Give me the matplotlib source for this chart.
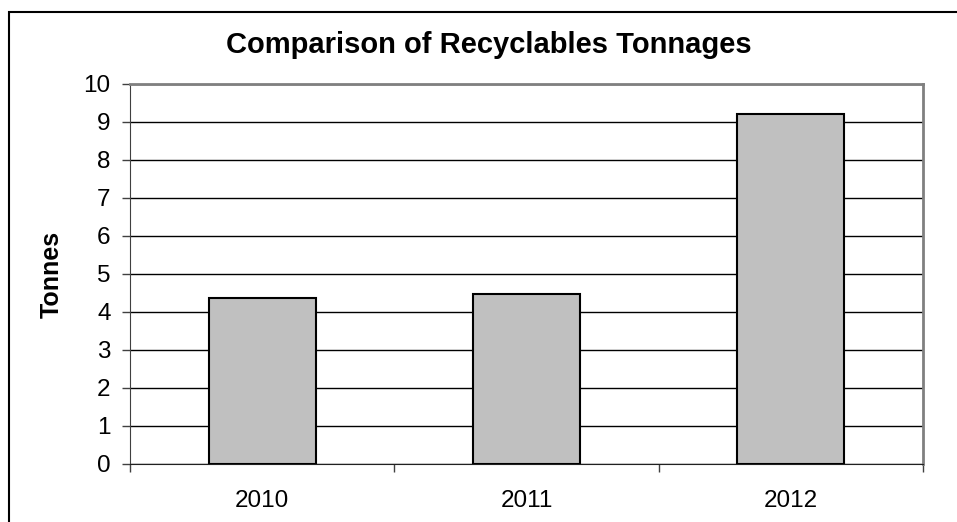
import numpy as np
import matplotlib.pyplot as plt
from matplotlib.patches import Rectangle
from matplotlib.ticker import FixedLocator

plt.rcParams['font.family'] = ['Liberation Sans', 'DejaVu Sans']

years = ['2010', '2011', '2012']
tonnes = [4.36, 4.47, 9.22]
yticks = list(range(0, 11))

fig = plt.figure(figsize=(9.57, 5.22), dpi=100)
ax = fig.add_axes([130 / 957, 58 / 522, 793 / 957, 380 / 522])

# outer chart frame, open at right and bottom edges
fig.patches.append(Rectangle((9 / 957, -0.1), 1.2, 1.1 - 12 / 522,
                             transform=fig.transFigure, fill=False,
                             edgecolor='black', linewidth=1.5, zorder=0))

x = np.arange(len(years))
ax.bar(x, tonnes, width=0.405, color='#c0c0c0', edgecolor='black',
       linewidth=1.5, zorder=3)

ax.set_xlim(-0.5, 2.5)
ax.set_ylim(0, 10)
ax.set_yticks(yticks)
ax.yaxis.grid(True, color='black', linewidth=1, zorder=1)
ax.set_axisbelow(True)

ax.set_xticks(x)
ax.set_xticklabels(years)
ax.xaxis.set_minor_locator(FixedLocator([-0.5, 0.5, 1.5, 2.5]))
ax.tick_params(axis='x', which='major', length=0, pad=19, labelsize=17.5)
ax.tick_params(axis='x', which='minor', length=6, width=1, color='#404040')
ax.tick_params(axis='y', length=6, width=1, color='#404040', pad=8,
               labelsize=17.5)

for side in ['top', 'right']:
    ax.spines[side].set_color('#808080')
    ax.spines[side].set_linewidth(2)
ax.spines['left'].set_color('#404040')
ax.spines['bottom'].set_color('#202020')

ax.set_ylabel('Tonnes', fontsize=18, fontweight='bold')
ax.yaxis.set_label_coords(-66 / 793, 0.5)
fig.text(489 / 957, 1 - 45 / 522, 'Comparison of Recyclables Tonnages',
         ha='center', va='center', fontsize=21, fontweight='bold')

fig.savefig('out.png', dpi=100)
